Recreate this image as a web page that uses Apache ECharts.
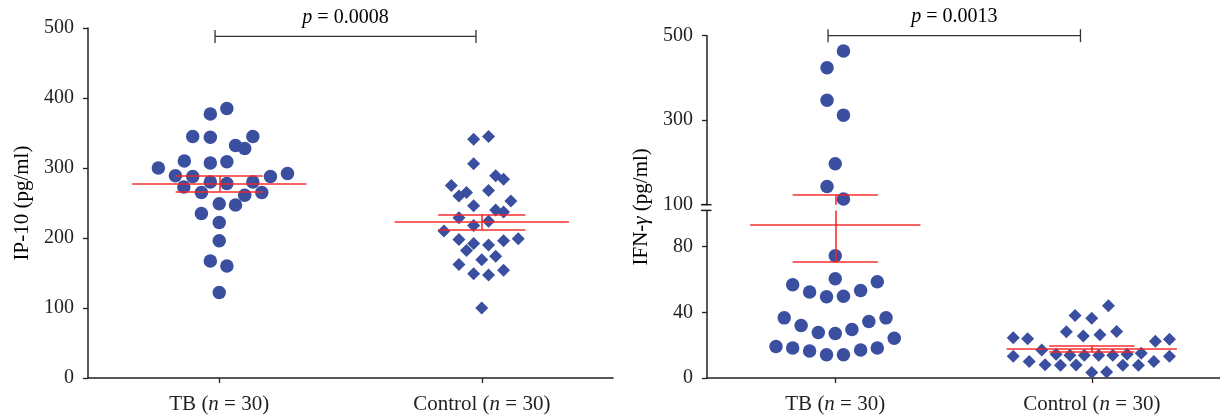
<!DOCTYPE html>
<html>
<head>
<meta charset="utf-8">
<script src="https://cdn.jsdelivr.net/npm/echarts@6.0.0/dist/echarts.min.js"></script>
<style>
html, body { margin: 0; padding: 0; background: #fff; }
#chart { width: 1220px; height: 415px; }
</style>
</head>
<body>
<div id="chart"></div>
<script>
// groups and ticks
const categories = ['TB', 'Control'];
const groupN = [30, 30];
const ip10Ticks = [0, 100, 200, 300, 400, 500];
const ifnUpperTicks = [100, 300, 500];
const ifnLowerTicks = [0, 40, 80];
const pValues = ['0.0008', '0.0013'];

// IP-10 (pg/ml): [offset from group centre, value]
const ip10TB = [
  [-0.034, 377], [0.029, 385], [-0.101, 345], [-0.034, 344], [0.062, 332], [0.097, 328],
  [0.128, 345], [-0.232, 300], [-0.133, 310], [-0.034, 307], [0.029, 309], [-0.167, 289],
  [-0.101, 288], [-0.135, 273], [-0.034, 280], [0.029, 278], [0.128, 280], [0.195, 288],
  [0.26, 292], [-0.068, 265], [0.097, 261], [0.162, 265], [0, 249], [0.062, 247],
  [-0.068, 235], [0, 222], [0, 196], [-0.034, 167], [0.029, 160], [0, 122]
];
const ip10Control = [
  [-0.031, 341], [0.026, 345], [-0.031, 306], [0.053, 289], [0.083, 284], [-0.116, 275],
  [-0.087, 260], [-0.058, 265], [0.026, 268], [0.111, 253], [-0.031, 246], [0.053, 240],
  [0.083, 237], [-0.087, 229], [0.026, 224], [-0.031, 218], [-0.144, 210], [-0.087, 198],
  [-0.031, 192], [0.026, 190], [0.083, 196], [0.139, 199], [-0.058, 182], [0, 169],
  [0.053, 174], [-0.087, 162], [-0.031, 149], [0.026, 147], [0.083, 154], [0, 100]
];
const ip10Mean = [278, 223];
const ip10SemLo = [266.7, 212.4];
const ip10SemHi = [288.6, 233.8];

// IFN-gamma (pg/ml)
const ifnTB = [
  [0.032, 464], [-0.032, 424], [-0.032, 347], [0.032, 312], [0, 197], [-0.032, 143], [0.032, 113.5],
  [0, 74.4], [0, 60.4], [-0.166, 56.8], [-0.1, 52.4], [-0.034, 49.5], [0.032, 49.7], [0.099, 53.2],
  [0.164, 58.6], [-0.199, 36.6], [-0.133, 31.9], [-0.066, 27.7], [0, 27.1], [0.065, 29.5],
  [0.131, 34.4], [0.198, 36.6], [-0.231, 19.2], [-0.166, 18.2], [-0.1, 16.4], [-0.034, 14.2],
  [0.032, 14.2], [0.099, 17], [0.164, 18.2], [0.23, 24.2]
];
const ifnControl = [
  [0.065, 44], [-0.065, 38], [0, 36.4], [-0.099, 28.1], [-0.033, 25.5], [0.032, 26.3],
  [0.097, 28.3], [-0.306, 24.5], [-0.25, 23.9], [0.248, 22.4], [0.303, 23.6], [-0.195, 17],
  [-0.139, 14.4], [-0.085, 13.9], [-0.029, 13.9], [0.027, 13.9], [0.082, 13.9], [0.138, 14.4],
  [0.193, 15], [-0.306, 13.3], [0.303, 13.3], [-0.244, 10.1], [-0.182, 8.1], [-0.122, 7.7],
  [-0.061, 7.9], [0.121, 7.7], [0.182, 7.7], [0.242, 10.1], [0, 3.3], [0.058, 3.6]
];
const ifnMean = [93.3, 17.6];
const ifnSemLo = [70.7, 15.8];
const ifnSemHi = [123, 19.6];

const breakAt = 100;   // axis break of the IFN panel
const lowerMax = 102;

const FONT = 'Liberation Serif';
const INK = '#231f20';
const DOT = '#3a4fa0';
const RED = '#f42424';

const chart = echarts.init(document.getElementById('chart'));

const place = (pts, g) => pts.map(p => [g + 1 + p[0], p[1]]);

// mean +- SEM segments
function errSegs(mean, lo, hi) {
  const segs = [];
  mean.forEach((m, i) => {
    const c = i + 1;
    segs.push([[c - 0.332, m], [c + 0.332, m]]);
    segs.push([[c - 0.166, lo[i]], [c + 0.166, lo[i]]]);
    segs.push([[c - 0.166, hi[i]], [c + 0.166, hi[i]]]);
    segs.push([[c, lo[i]], [c, hi[i]]]);
  });
  return segs;
}

// split segments over the broken axis
function splitSegs(segs) {
  const lower = [], upper = [];
  segs.forEach(s => {
    const y1 = s[0][1], y2 = s[1][1];
    if (y1 === y2) {
      (y1 > breakAt ? upper : lower).push(s);
    } else {
      const a = Math.min(y1, y2), b = Math.max(y1, y2);
      if (a < lowerMax) lower.push([[s[0][0], a], [s[0][0], Math.min(b, lowerMax)]]);
      if (b > breakAt) upper.push([[s[0][0], Math.max(a, breakAt)], [s[0][0], b]]);
    }
  });
  return { lower, upper };
}

const ifnErr = splitSegs(errSegs(ifnMean, ifnSemLo, ifnSemHi));

const axisLine = { show: true, lineStyle: { color: INK, width: 1.5 } };
const tickStyle = { show: true, length: 5, lineStyle: { color: INK, width: 1.3 } };
const labelFont = { fontFamily: FONT, fontSize: 20, color: INK };
const bigFont = { fontFamily: FONT, fontSize: 21, color: INK };
const bigItalic = Object.assign({}, bigFont, { fontStyle: 'italic' });

function catLabel(v) {
  const i = Math.round(v) - 1;
  return '{a|' + categories[i] + ' (}{b|n}{a| = ' + groupN[i] + ')}';
}

function xAxisFor(grid, show) {
  return {
    type: 'value', gridIndex: grid, min: 0.5, max: 2.5,
    splitLine: { show: false },
    axisLine: Object.assign({}, axisLine, { show: show }),
    axisTick: Object.assign({}, tickStyle, { show: show, customValues: [1, 2] }),
    axisLabel: {
      show: show, customValues: [1, 2], margin: 16, formatter: catLabel,
      rich: { a: bigFont, b: bigItalic }
    }
  };
}

function yAxisFor(grid, min, max, ticks) {
  return {
    type: 'value', gridIndex: grid, min: min, max: max,
    splitLine: { show: false },
    axisLine: axisLine,
    axisTick: Object.assign({}, tickStyle, { customValues: ticks }),
    axisLabel: Object.assign({ customValues: ticks, margin: 14 }, labelFont)
  };
}

function dots(pts, x, y, symbol) {
  return {
    type: 'scatter', xAxisIndex: x, yAxisIndex: y, data: pts,
    symbol: symbol, symbolSize: symbol === 'circle' ? 13.5 : 13,
    itemStyle: { color: DOT, opacity: 1 }, silent: true, z: 2
  };
}

function redLines(segs, x, y) {
  return {
    type: 'lines', coordinateSystem: 'cartesian2d', xAxisIndex: x, yAxisIndex: y,
    data: segs.map(s => ({ coords: s })),
    lineStyle: { color: RED, width: 1.6, opacity: 0.95 }, silent: true, z: 5
  };
}

const ifnTBLow = place(ifnTB, 0).filter(p => p[1] <= breakAt);
const ifnTBHigh = place(ifnTB, 0).filter(p => p[1] > breakAt);

chart.setOption({
  animation: false,
  grid: [
    { left: 88, top: 28, width: 525, height: 350 },
    { left: 707, top: 35.7, width: 513, height: 169 },
    { left: 707, top: 210.4, width: 513, height: 168.3 }
  ],
  xAxis: [xAxisFor(0, true), xAxisFor(1, false), xAxisFor(2, true)],
  yAxis: [
    yAxisFor(0, 0, 500, ip10Ticks),
    yAxisFor(1, breakAt, 500, ifnUpperTicks),
    yAxisFor(2, 0, lowerMax, ifnLowerTicks)
  ],
  series: [
    dots(place(ip10TB, 0), 0, 0, 'circle'),
    dots(place(ip10Control, 1), 0, 0, 'diamond'),
    redLines(errSegs(ip10Mean, ip10SemLo, ip10SemHi), 0, 0),
    dots(ifnTBHigh, 1, 1, 'circle'),
    dots(ifnTBLow, 2, 2, 'circle'),
    dots(place(ifnControl, 1), 2, 2, 'diamond'),
    redLines(ifnErr.upper, 1, 1),
    redLines(ifnErr.lower, 2, 2)
  ]
});

// brackets, p-values, axis titles and break marks
const px = (grid, v) => chart.convertToPixel({ gridIndex: grid }, v);
const graphics = [];

function bracket(grid, x1, x2, yv, p) {
  const a = px(grid, [x1, yv]), b = px(grid, [x2, yv]);
  const st = { stroke: '#333', lineWidth: 1.3 };
  graphics.push({ type: 'line', shape: { x1: a[0], y1: a[1], x2: b[0], y2: b[1] }, style: st });
  [a, b].forEach(q => graphics.push({
    type: 'line', shape: { x1: q[0], y1: q[1] - 6.5, x2: q[0], y2: q[1] + 6.5 }, style: st
  }));
  graphics.push({
    type: 'text', x: (a[0] + b[0]) / 2, y: a[1] - 19,
    style: {
      text: '{i|p}{r| = ' + p + '}', align: 'center', verticalAlign: 'middle',
      rich: { r: labelFont, i: Object.assign({}, labelFont, { fontStyle: 'italic' }) }
    }
  });
}
bracket(0, 0.984, 1.978, 488, pValues[0]);
bracket(1, 0.972, 1.956, 500, pValues[1]);

function yTitle(x, y, parts) {
  graphics.push({
    type: 'text', x: x, y: y, rotation: Math.PI / 2,
    style: {
      text: parts, align: 'center', verticalAlign: 'middle',
      rich: { r: bigFont, i: bigItalic }
    }
  });
}
const g0 = px(0, [0.5, 250]);
yTitle(22, g0[1], '{r|IP-10 (pg/ml)}');
const up = px(1, [0.5, 500]), low = px(2, [0.5, 0]);
yTitle(641, (up[1] + low[1]) / 2, '{r|IFN-}{i|γ}{r| (pg/ml)}');

[px(1, [0.5, breakAt]), px(2, [0.5, lowerMax])].forEach(q => graphics.push({
  type: 'line', shape: { x1: q[0] - 6, y1: q[1], x2: q[0] + 4.5, y2: q[1] },
  style: { stroke: INK, lineWidth: 1.5 }
}));

chart.setOption({ graphic: graphics });
</script>
</body>
</html>
